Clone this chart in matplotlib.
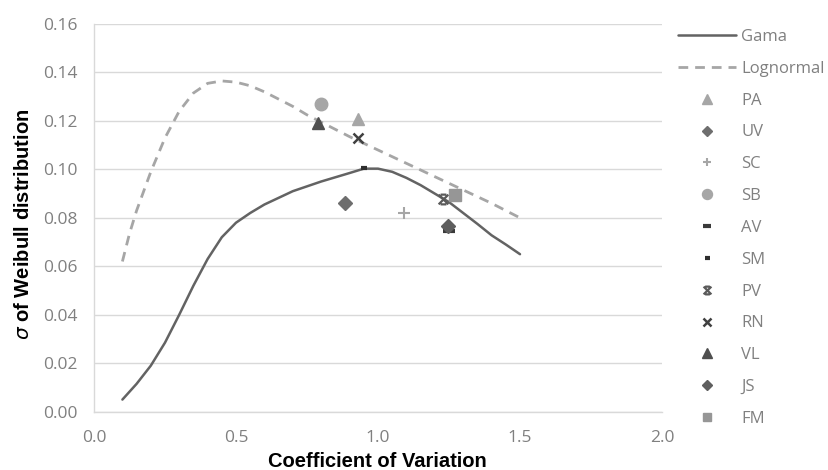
import matplotlib
matplotlib.use("Agg")
import matplotlib.pyplot as plt
from matplotlib.path import Path

# ---- data ----
cv_gama = [0.10, 0.15, 0.20, 0.25, 0.30, 0.35, 0.40, 0.45, 0.50, 0.55, 0.60, 0.70, 0.80, 0.90, 0.95,
           1.00, 1.05, 1.10, 1.15, 1.20, 1.25, 1.30, 1.35, 1.40, 1.45, 1.50]
gama = [0.005, 0.0115, 0.019, 0.0285, 0.040, 0.052, 0.063, 0.072, 0.078, 0.082, 0.0855, 0.091, 0.095, 0.0985, 0.1003,
        0.1003, 0.099, 0.0965, 0.0935, 0.090, 0.0865, 0.082, 0.0775, 0.0728, 0.069, 0.065]
cv_logn = [0.10, 0.125, 0.15, 0.175, 0.20, 0.25, 0.30, 0.35, 0.40, 0.45, 0.50, 0.55, 0.60, 0.65, 0.70,
           0.75, 0.80, 0.85, 0.90, 1.00, 1.10, 1.20, 1.30, 1.40, 1.50]
lognormal = [0.062, 0.0735, 0.083, 0.091, 0.099, 0.113, 0.124, 0.1315, 0.1355, 0.1365, 0.136, 0.1345, 0.132, 0.129, 0.126,
             0.1225, 0.1195, 0.1165, 0.1135, 0.108, 0.1025, 0.097, 0.0915, 0.086, 0.080]

site_names = ["PA", "UV", "SC", "SB", "AV", "SM", "PV", "RN", "VL", "JS", "FM"]
site_cv = [0.93, 0.885, 1.09, 0.80, 1.25, 0.95, 1.23, 0.93, 0.79, 1.245, 1.27]
site_sigma = [0.121, 0.086, 0.082, 0.127, 0.0745, 0.1005, 0.0877, 0.113, 0.119, 0.0765, 0.0894]

x_ticks = [0.0, 0.5, 1.0, 1.5, 2.0]
y_ticks = [0.00, 0.02, 0.04, 0.06, 0.08, 0.10, 0.12, 0.14, 0.16]

# ---- styles ----
pv_marker = Path([(-1, -1), (1, 1), (-1, 1), (1, -1), (-0.6, 1), (0.6, 1), (-0.6, -1), (0.6, -1)],
                 [Path.MOVETO, Path.LINETO, Path.MOVETO, Path.LINETO,
                  Path.MOVETO, Path.LINETO, Path.MOVETO, Path.LINETO])
styles = {
    "PA": dict(marker="^", color="#a6a6a6", ms=9),
    "UV": dict(marker="D", color="#6e6e6e", ms=7),
    "SC": dict(marker="+", color="#a6a6a6", ms=8, mew=1.5),
    "SB": dict(marker="o", color="#a6a6a6", ms=9),
    "AV": dict(marker="_", color="#3a3a3a", ms=8, mew=3),
    "SM": dict(marker="_", color="#2e2e2e", ms=4.5, mew=3),
    "PV": dict(marker=pv_marker, color="#5a5a5a", ms=7, mew=1.6),
    "RN": dict(marker="x", color="#404040", ms=7, mew=1.8),
    "VL": dict(marker="^", color="#4f4f4f", ms=9),
    "JS": dict(marker="D", color="#5f5f5f", ms=7),
    "FM": dict(marker="s", color="#969696", ms=8),
}

plt.rcParams['font.family'] = ['Open Sans', 'DejaVu Sans']

fig = plt.figure(figsize=(8.29, 4.70), dpi=100)
ax = fig.add_axes([94/829, 1-411.7/470, (662-94)/829, (411.7-24)/470])

ax.plot(cv_gama, gama, color="#636363", lw=1.8, label="Gama", zorder=3,
        solid_joinstyle="round", solid_capstyle="round")
ax.plot(cv_logn, lognormal, color="#a6a6a6", lw=2.0, ls=(0, (3.5, 2.5)), label="Lognormal", zorder=3)

for name, x, y in zip(site_names, site_cv, site_sigma):
    st = styles[name]
    ax.plot([x], [y], ls="none", marker=st["marker"], color=st["color"], ms=st["ms"],
            mew=st.get("mew", 1.0), label=name, zorder=4)

ax.set_xlim(0, 2.0)
ax.set_ylim(0, 0.16)
ax.set_xticks(x_ticks)
ax.set_xticklabels([f"{v:.1f}" for v in x_ticks])
ax.set_yticks(y_ticks)
ax.set_yticklabels([f"{v:.2f}" for v in y_ticks])
ax.tick_params(length=0, labelsize=12.5, labelcolor="#808080")
ax.tick_params(axis="x", pad=13)
ax.tick_params(axis="y", pad=12)
ax.grid(axis="y", color="#d9d9d9", lw=1)
ax.set_axisbelow(True)
for s in ["top", "right"]:
    ax.spines[s].set_visible(False)
for s in ["left", "bottom"]:
    ax.spines[s].set_color("#d9d9d9")
    ax.spines[s].set_linewidth(1)

fig.text(377/829, 1-467/470, "Coefficient of Variation", ha="center", va="baseline",
         fontsize=14.5, fontweight="bold", family="Liberation Sans")
fig.text(24/829, 1-224/470, r"$\sigma$ of Weibull distribution", ha="center", va="center",
         rotation=90, fontsize=14.5, fontweight="bold", family="Liberation Sans")

leg = fig.legend(loc="upper left", bbox_to_anchor=(678/829, 1-29/470), frameon=False,
                 fontsize=12, labelcolor="#808080", handlelength=3.5, handletextpad=0.3,
                 labelspacing=0.95, borderpad=0, borderaxespad=0, markerscale=0.8)

fig.savefig("out.png", dpi=100)
